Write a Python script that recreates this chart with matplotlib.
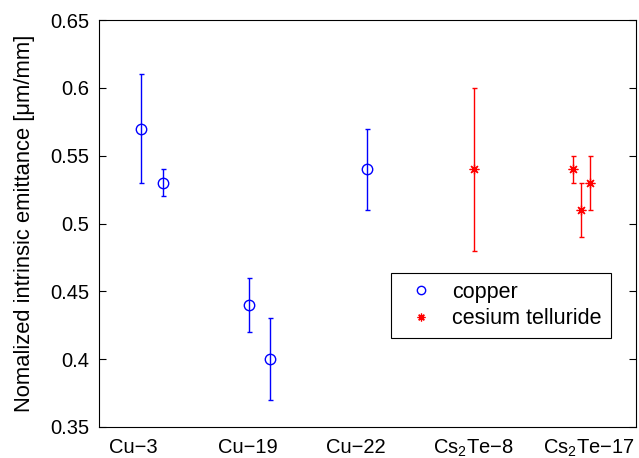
import matplotlib
matplotlib.use('Agg')
import matplotlib.pyplot as plt

plt.rcParams['font.family'] = ['Liberation Sans', 'DejaVu Sans']
plt.rcParams['mathtext.fontset'] = 'custom'
plt.rcParams['mathtext.rm'] = 'Liberation Sans'
plt.rcParams['mathtext.it'] = 'Liberation Sans'
plt.rcParams['mathtext.default'] = 'regular'

# copper samples
cu_x   = [1.07, 1.26, 2.01, 2.20, 3.05]
cu_y   = [0.57, 0.53, 0.44, 0.40, 0.54]
cu_err = [0.04, 0.01, 0.02, 0.03, 0.03]

# cesium telluride samples
cs_x   = [3.98, 4.85, 4.92, 5.00]
cs_y   = [0.54, 0.54, 0.51, 0.53]
cs_err = [0.06, 0.01, 0.02, 0.02]

tick_pos    = [1.0, 2.0, 2.95, 3.98, 4.99]
tick_labels = ['Cu\u22123', 'Cu\u221219', 'Cu\u221222',
               'Cs$_2$Te\u22128', 'Cs$_2$Te\u221217']

fig = plt.figure(figsize=(6.39, 4.58), dpi=100)
ax = fig.add_axes([0.155, 0.068, 0.84, 0.888])

ax.errorbar(cu_x, cu_y, yerr=cu_err, fmt='none', ecolor='blue',
            elinewidth=1, capsize=1.8, capthick=1)
ax.errorbar(cs_x, cs_y, yerr=cs_err, fmt='none', ecolor='red',
            elinewidth=1, capsize=1.8, capthick=1)
ax.plot(cu_x, cu_y, ls='none', marker='o', mfc='none', mec='blue', ms=7.5, mew=1,
        label='copper')
ax.plot(cs_x, cs_y, ls='none', marker=(8, 2, 0), color='red', ms=7, mew=0.9,
        label='cesium telluride')

ax.set_xlim(0.7, 5.4)
ax.set_ylim(0.35, 0.65)
ax.set_yticks([0.35, 0.4, 0.45, 0.5, 0.55, 0.6, 0.65])
ax.set_yticklabels(['0.35', '0.4', '0.45', '0.5', '0.55', '0.6', '0.65'])
ax.set_xticks(tick_pos)
ax.set_xticklabels(tick_labels)
ax.tick_params(axis='y', direction='in', length=5, right=True, labelsize=14.5, pad=7)
ax.tick_params(axis='x', length=0, labelsize=14.5, pad=8)
ax.set_ylabel('Nomalized intrinsic emittance [\u03bcm/mm]', fontsize=15.8, labelpad=11)

leg = ax.legend(loc='upper left', bbox_to_anchor=(0.544, 0.378), fontsize=15.5,
                fancybox=False, framealpha=1, edgecolor='black',
                handlelength=2, handletextpad=0.45, borderpad=0.4,
                labelspacing=0.25, borderaxespad=0, markerscale=0.8)
leg.get_frame().set_linewidth(0.8)

fig.savefig('out.png', dpi=100)
